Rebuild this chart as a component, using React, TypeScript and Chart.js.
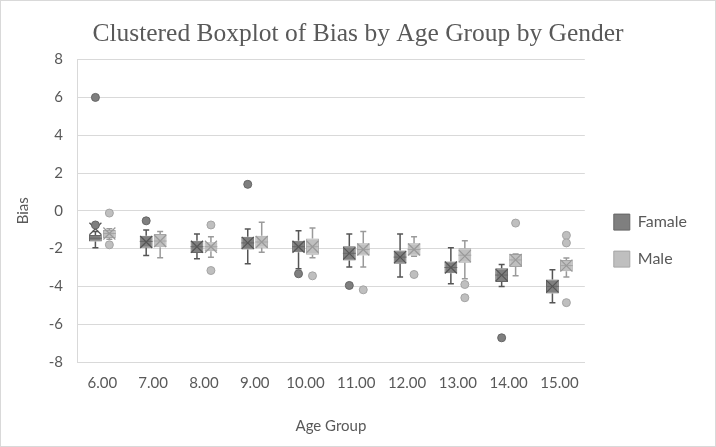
import React, { useEffect, useRef } from 'react';
import { Chart, registerables } from 'chart.js';

Chart.register(...registerables);

const categories = ['6.00', '7.00', '8.00', '9.00', '10.00', '11.00', '12.00', '13.00', '14.00', '15.00'];
const yTicks = [-8, -6, -4, -2, 0, 2, 4, 6, 8];

const femaleMin = [-1.96, -2.37, -2.54, -2.8, -3.07, -2.98, -3.5, -3.86, -4.0, -4.86];
const femaleQ1 = [-1.63, -1.96, -2.23, -2.05, -2.19, -2.63, -2.8, -3.3, -3.77, -4.38];
const femaleMedian = [-1.45, -1.62, -1.9, -1.7, -1.9, -2.25, -2.45, -3.0, -3.4, -4.0];
const femaleQ3 = [-1.28, -1.32, -1.58, -1.37, -1.58, -1.88, -2.1, -2.68, -3.04, -3.63];
const femaleMax = [-1.1, -1.02, -1.23, -0.96, -1.05, -1.23, -1.23, -1.96, -2.84, -3.12];
const femaleMean = [-0.95, -1.65, -1.9, -1.7, -1.9, -2.25, -2.45, -3.0, -3.4, -4.0];
const femaleOutliers = [[6.0, -0.75], [-0.53], [], [1.4], [-3.33], [-3.95], [], [], [-6.72], []];

const maleMin = [-1.5, -2.49, -2.46, -2.19, -2.49, -2.98, -2.4, -3.6, -3.44, -3.5];
const maleQ1 = [-1.44, -1.93, -2.14, -1.96, -2.32, -2.37, -2.37, -2.75, -2.98, -3.2];
const maleMedian = [-1.2, -1.6, -1.9, -1.65, -1.9, -2.05, -2.05, -2.35, -2.6, -2.9];
const maleQ3 = [-1.02, -1.23, -1.66, -1.32, -1.46, -1.72, -1.72, -1.98, -2.28, -2.6];
const maleMax = [-0.95, -1.09, -1.37, -0.61, -0.91, -1.1, -1.37, -1.58, -2.28, -2.5];
const maleMean = [-1.2, -1.6, -1.9, -1.65, -1.9, -2.05, -2.05, -2.4, -2.6, -2.9];
const maleOutliers = [[-0.12, -1.8], [], [-0.75, -3.16], [], [-3.44], [-4.18], [-3.37], [-3.9, -4.6], [-0.65], [-1.3, -1.7, -4.86]];

const seriesNames = ['Famale', 'Male'];
const fillColors = ['#7f7f7f', '#bfbfbf'];
const lineColors = ['#666666', '#a5a5a5'];
const whiskerColors = ['#555555', '#9a9a9a'];

const stats = [
  { min: femaleMin, q1: femaleQ1, med: femaleMedian, q3: femaleQ3, max: femaleMax, mean: femaleMean, out: femaleOutliers },
  { min: maleMin, q1: maleQ1, med: maleMedian, q3: maleQ3, max: maleMax, mean: maleMean, out: maleOutliers },
];

const framePlugin = {
  id: 'frame',
  beforeDraw(chart: any) {
    const ctx = chart.ctx;
    ctx.save();
    ctx.fillStyle = '#ffffff';
    ctx.fillRect(0, 0, chart.width, chart.height);
    ctx.strokeStyle = '#d9d9d9';
    ctx.lineWidth = 1;
    ctx.strokeRect(0.5, 0.5, chart.width - 1, chart.height - 1);
    ctx.restore();
  },
};

const boxPlugin = {
  id: 'boxExtras',
  afterDatasetsDraw(chart: any) {
    const ctx = chart.ctx;
    const ys = chart.scales.y;
    chart.data.datasets.forEach((ds: any, di: number) => {
      const meta = chart.getDatasetMeta(di);
      const s = stats[di];
      meta.data.forEach((el: any, i: number) => {
        const x = el.x;
        const w = el.width;
        const pMin = ys.getPixelForValue(s.min[i]);
        const pQ1 = ys.getPixelForValue(s.q1[i]);
        const pQ3 = ys.getPixelForValue(s.q3[i]);
        const pMax = ys.getPixelForValue(s.max[i]);
        const pMed = ys.getPixelForValue(s.med[i]);
        const pMean = ys.getPixelForValue(s.mean[i]);
        ctx.save();
        ctx.strokeStyle = whiskerColors[di];
        ctx.lineWidth = 1.5;
        const cap = 3;
        ctx.beginPath();
        ctx.moveTo(x, pQ3);
        ctx.lineTo(x, pMax);
        ctx.moveTo(x - cap, pMax);
        ctx.lineTo(x + cap, pMax);
        ctx.moveTo(x, pQ1);
        ctx.lineTo(x, pMin);
        ctx.moveTo(x - cap, pMin);
        ctx.lineTo(x + cap, pMin);
        ctx.stroke();
        ctx.strokeStyle = lineColors[di];
        ctx.lineWidth = 1;
        ctx.beginPath();
        ctx.moveTo(x - w / 2, pMed);
        ctx.lineTo(x + w / 2, pMed);
        ctx.stroke();
        const h = Math.min(w / 2, 6);
        ctx.strokeStyle = di === 0 ? '#555555' : '#999999';
        ctx.lineWidth = 1.2;
        ctx.beginPath();
        ctx.moveTo(x - h, pMean - h);
        ctx.lineTo(x + h, pMean + h);
        ctx.moveTo(x - h, pMean + h);
        ctx.lineTo(x + h, pMean - h);
        ctx.stroke();
        ctx.fillStyle = fillColors[di];
        ctx.strokeStyle = lineColors[di];
        ctx.lineWidth = 1;
        s.out[i].forEach((v: number) => {
          const py = ys.getPixelForValue(v);
          ctx.beginPath();
          ctx.arc(x, py, 4, 0, Math.PI * 2);
          ctx.fill();
          ctx.stroke();
        });
        ctx.restore();
      });
    });
  },
};

export default function App() {
  const ref = useRef<HTMLCanvasElement | null>(null);
  useEffect(() => {
    if (!ref.current) return;
    const chart = new Chart(ref.current, {
      type: 'bar',
      data: {
        labels: categories,
        datasets: stats.map((s, di) => ({
          label: seriesNames[di],
          data: s.q1.map((q, i) => [q, s.q3[i]]) as any,
          backgroundColor: fillColors[di],
          borderColor: lineColors[di],
          borderWidth: 1,
          borderSkipped: false,
          categoryPercentage: 0.55,
          barPercentage: 0.92,
        })),
      },
      options: {
        responsive: false,
        animation: false,
        layout: { padding: { left: 19, right: 19, top: 7, bottom: 0 } },
        plugins: {
          title: {
            display: true,
            text: 'Clustered Boxplot of Bias by Age Group by Gender',
            color: '#595959',
            font: { family: 'Liberation Serif', size: 25.5, weight: 'normal' },
            padding: { top: 12, bottom: 10 },
          },
          legend: {
            position: 'right',
            title: { display: true, text: '', font: { size: 16 }, padding: 4 },
            labels: {
              boxWidth: 16,
              boxHeight: 16,
              color: '#595959',
              font: { family: 'Lato', size: 16 },
              padding: 21,
            },
          },
          tooltip: { enabled: false },
        },
        scales: {
          x: {
            grid: { display: false, drawTicks: false },
            border: { display: true, color: '#d9d9d9' },
            ticks: { color: '#595959', font: { family: 'Lato', size: 15 }, padding: 12 },
            title: {
              display: true,
              text: 'Age Group',
              color: '#595959',
              font: { family: 'Lato', size: 15 },
              padding: { top: 4, bottom: 12 },
            },
            afterFit: (s: any) => { s.height = 85; },
          },
          y: {
            min: -8,
            max: 8,
            afterBuildTicks: (s: any) => { s.ticks = yTicks.map((v) => ({ value: v })); },
            grid: { color: '#d9d9d9', drawTicks: false },
            border: { display: true, color: '#d9d9d9' },
            ticks: { color: '#595959', font: { family: 'Lato', size: 15 }, padding: 14 },
            title: {
              display: true,
              text: 'Bias',
              color: '#595959',
              font: { family: 'Lato', size: 15 },
              padding: { top: -5, bottom: 4 },
            },
            afterFit: (s: any) => { s.width = 58; },
          },
          gap: {
            type: 'linear',
            position: 'right',
            display: true,
            grid: { display: false, drawTicks: false },
            border: { display: false },
            ticks: { display: false },
            afterFit: (s: any) => { s.width = 8; },
          },
        },
      } as any,
      plugins: [framePlugin, boxPlugin],
    });
    return () => chart.destroy();
  }, []);
  return (
    <div style={{ position: 'fixed', left: 0, top: 0, width: 716, height: 447 }}>
      <canvas ref={ref} width={716} height={447} />
    </div>
  );
}
